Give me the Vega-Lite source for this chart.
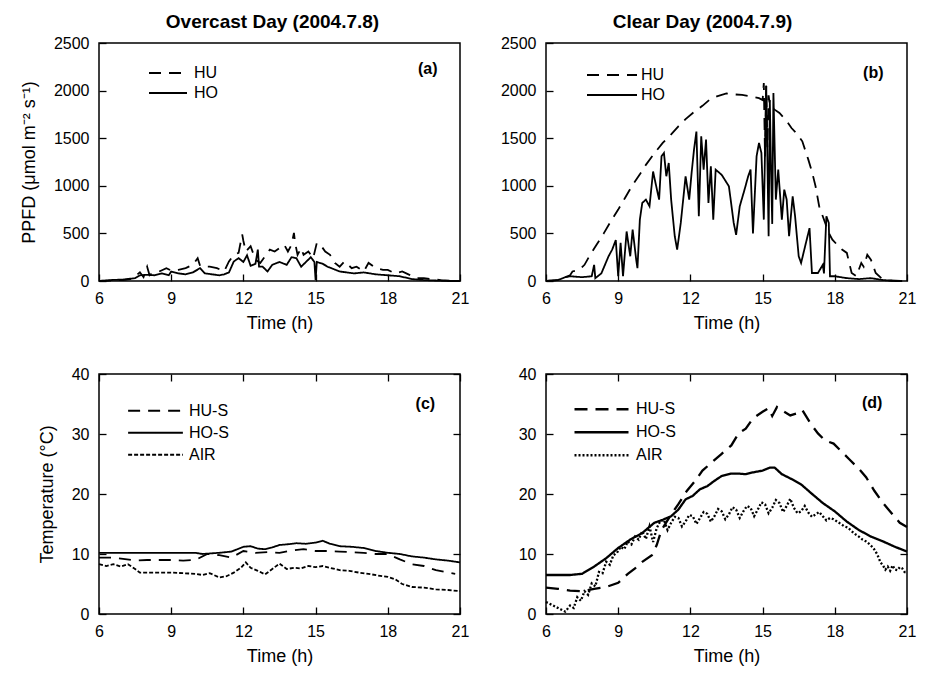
{
  "$schema": "https://vega.github.io/schema/vega-lite/v6.json",
  "background": "white",
  "padding": {"left": 19, "top": 12, "right": 5, "bottom": 5},
  "config": {
    "font": "Liberation Sans",
    "view": {"stroke": "black", "strokeWidth": 1.5},
    "axis": {"grid": false, "domain": false, "labelColor": "black", "titleColor": "black", "labelFont": "Liberation Sans", "titleFont": "Liberation Sans", "titleFontWeight": "normal", "labelFlush": false, "labelOverlap": false, "format": "d"},
    "axisX": {"labelFontSize": 16, "labelPadding": 9, "titleFontSize": 18, "titlePadding": 8},
    "axisY": {"labelFontSize": 16, "labelPadding": 10, "titleFontSize": 18, "titlePadding": 15},
    "legend": {"orient": "none", "symbolType": "stroke", "symbolStrokeColor": "black", "symbolStrokeWidth": 1.8, "labelFontSize": 16, "labelColor": "black", "labelFont": "Liberation Sans", "padding": 0, "rowPadding": 0, "title": null},
    "title": {"fontSize": 19, "fontWeight": "bold", "font": "Liberation Sans", "color": "black", "baseline": "bottom", "offset": 3}
  },
  "datasets": {
    "a": [
      {"t":6.0,"v":0,"s":"HU"},{"t":6.5,"v":5,"s":"HU"},{"t":7.0,"v":10,"s":"HU"},{"t":7.3,"v":20,"s":"HU"},{"t":7.5,"v":46,"s":"HU"},{"t":7.7,"v":92,"s":"HU"},{"t":7.85,"v":40,"s":"HU"},{"t":8.0,"v":150,"s":"HU"},{"t":8.1,"v":60,"s":"HU"},{"t":8.2,"v":80,"s":"HU"},{"t":8.5,"v":100,"s":"HU"},{"t":8.8,"v":135,"s":"HU"},{"t":9.0,"v":110,"s":"HU"},{"t":9.3,"v":117,"s":"HU"},{"t":9.6,"v":135,"s":"HU"},{"t":9.9,"v":170,"s":"HU"},{"t":10.1,"v":240,"s":"HU"},{"t":10.2,"v":160,"s":"HU"},{"t":10.3,"v":150,"s":"HU"},{"t":10.6,"v":150,"s":"HU"},{"t":10.9,"v":135,"s":"HU"},{"t":11.2,"v":100,"s":"HU"},{"t":11.4,"v":205,"s":"HU"},{"t":11.6,"v":275,"s":"HU"},{"t":11.8,"v":295,"s":"HU"},{"t":11.95,"v":490,"s":"HU"},{"t":12.0,"v":420,"s":"HU"},{"t":12.1,"v":310,"s":"HU"},{"t":12.3,"v":365,"s":"HU"},{"t":12.5,"v":225,"s":"HU"},{"t":12.7,"v":190,"s":"HU"},{"t":12.9,"v":260,"s":"HU"},{"t":13.1,"v":330,"s":"HU"},{"t":13.3,"v":310,"s":"HU"},{"t":13.5,"v":345,"s":"HU"},{"t":13.7,"v":380,"s":"HU"},{"t":13.85,"v":310,"s":"HU"},{"t":14.0,"v":380,"s":"HU"},{"t":14.1,"v":505,"s":"HU"},{"t":14.15,"v":400,"s":"HU"},{"t":14.25,"v":275,"s":"HU"},{"t":14.4,"v":345,"s":"HU"},{"t":14.5,"v":275,"s":"HU"},{"t":14.7,"v":310,"s":"HU"},{"t":14.9,"v":240,"s":"HU"},{"t":15.05,"v":400,"s":"HU"},{"t":15.2,"v":380,"s":"HU"},{"t":15.4,"v":310,"s":"HU"},{"t":15.6,"v":275,"s":"HU"},{"t":15.8,"v":190,"s":"HU"},{"t":16.0,"v":150,"s":"HU"},{"t":16.2,"v":205,"s":"HU"},{"t":16.5,"v":135,"s":"HU"},{"t":16.7,"v":150,"s":"HU"},{"t":17.0,"v":100,"s":"HU"},{"t":17.2,"v":190,"s":"HU"},{"t":17.5,"v":135,"s":"HU"},{"t":17.8,"v":117,"s":"HU"},{"t":18.0,"v":117,"s":"HU"},{"t":18.3,"v":80,"s":"HU"},{"t":18.6,"v":100,"s":"HU"},{"t":18.9,"v":65,"s":"HU"},{"t":19.2,"v":30,"s":"HU"},{"t":19.5,"v":30,"s":"HU"},{"t":19.8,"v":20,"s":"HU"},{"t":20.2,"v":10,"s":"HU"},{"t":20.8,"v":0,"s":"HU"},
      {"t":6.0,"v":0,"s":"HO"},{"t":6.5,"v":10,"s":"HO"},{"t":7.0,"v":15,"s":"HO"},{"t":7.5,"v":30,"s":"HO"},{"t":7.7,"v":60,"s":"HO"},{"t":8.0,"v":65,"s":"HO"},{"t":8.3,"v":60,"s":"HO"},{"t":8.6,"v":80,"s":"HO"},{"t":8.9,"v":60,"s":"HO"},{"t":9.0,"v":100,"s":"HO"},{"t":9.3,"v":80,"s":"HO"},{"t":9.6,"v":70,"s":"HO"},{"t":9.9,"v":90,"s":"HO"},{"t":10.2,"v":135,"s":"HO"},{"t":10.4,"v":80,"s":"HO"},{"t":10.7,"v":70,"s":"HO"},{"t":11.0,"v":60,"s":"HO"},{"t":11.2,"v":70,"s":"HO"},{"t":11.4,"v":90,"s":"HO"},{"t":11.6,"v":205,"s":"HO"},{"t":11.8,"v":240,"s":"HO"},{"t":12.0,"v":200,"s":"HO"},{"t":12.15,"v":270,"s":"HO"},{"t":12.3,"v":160,"s":"HO"},{"t":12.5,"v":180,"s":"HO"},{"t":12.6,"v":330,"s":"HO"},{"t":12.65,"v":150,"s":"HO"},{"t":12.8,"v":150,"s":"HO"},{"t":13.0,"v":100,"s":"HO"},{"t":13.2,"v":170,"s":"HO"},{"t":13.5,"v":200,"s":"HO"},{"t":13.8,"v":170,"s":"HO"},{"t":14.0,"v":250,"s":"HO"},{"t":14.2,"v":240,"s":"HO"},{"t":14.4,"v":150,"s":"HO"},{"t":14.6,"v":200,"s":"HO"},{"t":14.8,"v":250,"s":"HO"},{"t":14.95,"v":200,"s":"HO"},{"t":15.0,"v":10,"s":"HO"},{"t":15.05,"v":200,"s":"HO"},{"t":15.3,"v":180,"s":"HO"},{"t":15.5,"v":150,"s":"HO"},{"t":15.8,"v":120,"s":"HO"},{"t":16.0,"v":100,"s":"HO"},{"t":16.3,"v":90,"s":"HO"},{"t":16.6,"v":80,"s":"HO"},{"t":17.0,"v":90,"s":"HO"},{"t":17.5,"v":70,"s":"HO"},{"t":18.0,"v":60,"s":"HO"},{"t":18.5,"v":50,"s":"HO"},{"t":19.0,"v":20,"s":"HO"},{"t":19.5,"v":10,"s":"HO"},{"t":20.0,"v":5,"s":"HO"},{"t":20.5,"v":0,"s":"HO"},{"t":21.0,"v":0,"s":"HO"}
    ],
    "b": [
      {"t":6.0,"v":0,"s":"HU"},{"t":6.5,"v":10,"s":"HU"},{"t":7.0,"v":60,"s":"HU"},{"t":7.1,"v":100,"s":"HU"},{"t":7.4,"v":120,"s":"HU"},{"t":7.6,"v":170,"s":"HU"},{"t":7.8,"v":260,"s":"HU"},{"t":8.1,"v":380,"s":"HU"},{"t":8.4,"v":500,"s":"HU"},{"t":8.7,"v":630,"s":"HU"},{"t":9.0,"v":750,"s":"HU"},{"t":9.3,"v":880,"s":"HU"},{"t":9.6,"v":1010,"s":"HU"},{"t":9.9,"v":1120,"s":"HU"},{"t":10.15,"v":1220,"s":"HU"},{"t":10.5,"v":1340,"s":"HU"},{"t":10.85,"v":1450,"s":"HU"},{"t":11.2,"v":1540,"s":"HU"},{"t":11.5,"v":1625,"s":"HU"},{"t":11.8,"v":1700,"s":"HU"},{"t":12.1,"v":1765,"s":"HU"},{"t":12.5,"v":1840,"s":"HU"},{"t":12.8,"v":1905,"s":"HU"},{"t":13.1,"v":1940,"s":"HU"},{"t":13.5,"v":1970,"s":"HU"},{"t":13.8,"v":1960,"s":"HU"},{"t":14.15,"v":1955,"s":"HU"},{"t":14.5,"v":1940,"s":"HU"},{"t":14.85,"v":1920,"s":"HU"},{"t":15.0,"v":1900,"s":"HU"},{"t":15.05,"v":2080,"s":"HU"},{"t":15.1,"v":1300,"s":"HU"},{"t":15.15,"v":2050,"s":"HU"},{"t":15.2,"v":1400,"s":"HU"},{"t":15.25,"v":1950,"s":"HU"},{"t":15.3,"v":1850,"s":"HU"},{"t":15.5,"v":1800,"s":"HU"},{"t":15.7,"v":1765,"s":"HU"},{"t":16.0,"v":1680,"s":"HU"},{"t":16.2,"v":1607,"s":"HU"},{"t":16.45,"v":1540,"s":"HU"},{"t":16.65,"v":1467,"s":"HU"},{"t":16.9,"v":1275,"s":"HU"},{"t":17.05,"v":1150,"s":"HU"},{"t":17.2,"v":995,"s":"HU"},{"t":17.35,"v":785,"s":"HU"},{"t":17.5,"v":680,"s":"HU"},{"t":17.75,"v":505,"s":"HU"},{"t":17.9,"v":434,"s":"HU"},{"t":18.1,"v":380,"s":"HU"},{"t":18.3,"v":330,"s":"HU"},{"t":18.5,"v":295,"s":"HU"},{"t":18.7,"v":84,"s":"HU"},{"t":18.9,"v":50,"s":"HU"},{"t":19.1,"v":190,"s":"HU"},{"t":19.2,"v":150,"s":"HU"},{"t":19.35,"v":276,"s":"HU"},{"t":19.5,"v":224,"s":"HU"},{"t":19.7,"v":84,"s":"HU"},{"t":20.0,"v":14,"s":"HU"},{"t":20.3,"v":5,"s":"HU"},{"t":20.8,"v":0,"s":"HU"},
      {"t":6.0,"v":0,"s":"HO"},{"t":6.5,"v":10,"s":"HO"},{"t":6.8,"v":40,"s":"HO"},{"t":7.0,"v":50,"s":"HO"},{"t":7.5,"v":40,"s":"HO"},{"t":7.9,"v":50,"s":"HO"},{"t":8.0,"v":170,"s":"HO"},{"t":8.05,"v":30,"s":"HO"},{"t":8.3,"v":80,"s":"HO"},{"t":8.6,"v":260,"s":"HO"},{"t":8.75,"v":330,"s":"HO"},{"t":8.9,"v":430,"s":"HO"},{"t":9.0,"v":50,"s":"HO"},{"t":9.1,"v":400,"s":"HO"},{"t":9.2,"v":50,"s":"HO"},{"t":9.35,"v":520,"s":"HO"},{"t":9.5,"v":260,"s":"HO"},{"t":9.6,"v":540,"s":"HO"},{"t":9.75,"v":220,"s":"HO"},{"t":9.8,"v":135,"s":"HO"},{"t":9.9,"v":645,"s":"HO"},{"t":10.0,"v":820,"s":"HO"},{"t":10.15,"v":855,"s":"HO"},{"t":10.3,"v":785,"s":"HO"},{"t":10.45,"v":1150,"s":"HO"},{"t":10.55,"v":1030,"s":"HO"},{"t":10.7,"v":855,"s":"HO"},{"t":10.8,"v":1310,"s":"HO"},{"t":10.9,"v":1345,"s":"HO"},{"t":11.0,"v":1100,"s":"HO"},{"t":11.1,"v":1240,"s":"HO"},{"t":11.2,"v":855,"s":"HO"},{"t":11.35,"v":470,"s":"HO"},{"t":11.45,"v":330,"s":"HO"},{"t":11.6,"v":610,"s":"HO"},{"t":11.8,"v":1100,"s":"HO"},{"t":11.95,"v":855,"s":"HO"},{"t":12.05,"v":1135,"s":"HO"},{"t":12.15,"v":1380,"s":"HO"},{"t":12.25,"v":1570,"s":"HO"},{"t":12.35,"v":680,"s":"HO"},{"t":12.45,"v":1520,"s":"HO"},{"t":12.55,"v":1170,"s":"HO"},{"t":12.65,"v":1485,"s":"HO"},{"t":12.75,"v":820,"s":"HO"},{"t":12.85,"v":1205,"s":"HO"},{"t":12.95,"v":645,"s":"HO"},{"t":13.05,"v":1170,"s":"HO"},{"t":13.3,"v":1115,"s":"HO"},{"t":13.6,"v":995,"s":"HO"},{"t":13.8,"v":610,"s":"HO"},{"t":13.9,"v":485,"s":"HO"},{"t":14.05,"v":785,"s":"HO"},{"t":14.25,"v":960,"s":"HO"},{"t":14.4,"v":1100,"s":"HO"},{"t":14.5,"v":1170,"s":"HO"},{"t":14.6,"v":500,"s":"HO"},{"t":14.75,"v":1310,"s":"HO"},{"t":14.85,"v":1450,"s":"HO"},{"t":14.95,"v":1345,"s":"HO"},{"t":15.05,"v":645,"s":"HO"},{"t":15.15,"v":2050,"s":"HO"},{"t":15.25,"v":470,"s":"HO"},{"t":15.3,"v":1900,"s":"HO"},{"t":15.35,"v":1170,"s":"HO"},{"t":15.4,"v":600,"s":"HO"},{"t":15.45,"v":1975,"s":"HO"},{"t":15.55,"v":855,"s":"HO"},{"t":15.65,"v":1170,"s":"HO"},{"t":15.8,"v":645,"s":"HO"},{"t":15.9,"v":960,"s":"HO"},{"t":16.0,"v":855,"s":"HO"},{"t":16.1,"v":470,"s":"HO"},{"t":16.25,"v":890,"s":"HO"},{"t":16.35,"v":680,"s":"HO"},{"t":16.5,"v":260,"s":"HO"},{"t":16.6,"v":190,"s":"HO"},{"t":16.8,"v":400,"s":"HO"},{"t":16.95,"v":555,"s":"HO"},{"t":17.05,"v":84,"s":"HO"},{"t":17.3,"v":84,"s":"HO"},{"t":17.5,"v":170,"s":"HO"},{"t":17.55,"v":80,"s":"HO"},{"t":17.65,"v":680,"s":"HO"},{"t":17.75,"v":610,"s":"HO"},{"t":17.8,"v":50,"s":"HO"},{"t":18.0,"v":50,"s":"HO"},{"t":18.5,"v":30,"s":"HO"},{"t":19.0,"v":20,"s":"HO"},{"t":19.5,"v":30,"s":"HO"},{"t":20.0,"v":10,"s":"HO"},{"t":20.5,"v":0,"s":"HO"},{"t":20.8,"v":0,"s":"HO"}
    ],
    "c": [
      {"t":6.0,"v":9.4,"s":"HU-S"},{"t":6.5,"v":9.4,"s":"HU-S"},{"t":7.0,"v":9.2,"s":"HU-S"},{"t":7.5,"v":8.9,"s":"HU-S"},{"t":8.0,"v":9.0,"s":"HU-S"},{"t":8.5,"v":9.0,"s":"HU-S"},{"t":9.0,"v":9.0,"s":"HU-S"},{"t":9.5,"v":8.9,"s":"HU-S"},{"t":10.0,"v":9.0,"s":"HU-S"},{"t":10.5,"v":10.0,"s":"HU-S"},{"t":11.0,"v":9.8,"s":"HU-S"},{"t":11.5,"v":9.4,"s":"HU-S"},{"t":12.0,"v":10.5,"s":"HU-S"},{"t":12.5,"v":10.2,"s":"HU-S"},{"t":13.0,"v":10.3,"s":"HU-S"},{"t":13.5,"v":10.2,"s":"HU-S"},{"t":14.0,"v":10.6,"s":"HU-S"},{"t":14.5,"v":10.8,"s":"HU-S"},{"t":15.0,"v":10.5,"s":"HU-S"},{"t":15.5,"v":10.5,"s":"HU-S"},{"t":16.0,"v":10.4,"s":"HU-S"},{"t":16.5,"v":10.3,"s":"HU-S"},{"t":17.0,"v":10.2,"s":"HU-S"},{"t":17.5,"v":10.0,"s":"HU-S"},{"t":18.0,"v":10.0,"s":"HU-S"},{"t":18.5,"v":9.1,"s":"HU-S"},{"t":19.0,"v":8.3,"s":"HU-S"},{"t":19.5,"v":8.0,"s":"HU-S"},{"t":20.0,"v":7.3,"s":"HU-S"},{"t":20.5,"v":6.9,"s":"HU-S"},{"t":20.8,"v":6.7,"s":"HU-S"},
      {"t":6.0,"v":10.2,"s":"HO-S"},{"t":8.0,"v":10.2,"s":"HO-S"},{"t":10.0,"v":10.2,"s":"HO-S"},{"t":10.3,"v":10.0,"s":"HO-S"},{"t":11.0,"v":10.2,"s":"HO-S"},{"t":11.5,"v":10.4,"s":"HO-S"},{"t":12.0,"v":11.2,"s":"HO-S"},{"t":12.3,"v":11.3,"s":"HO-S"},{"t":12.6,"v":10.9,"s":"HO-S"},{"t":12.9,"v":10.8,"s":"HO-S"},{"t":13.2,"v":11.1,"s":"HO-S"},{"t":13.5,"v":11.5,"s":"HO-S"},{"t":13.8,"v":11.6,"s":"HO-S"},{"t":14.2,"v":11.8,"s":"HO-S"},{"t":14.6,"v":11.7,"s":"HO-S"},{"t":15.0,"v":11.9,"s":"HO-S"},{"t":15.3,"v":12.2,"s":"HO-S"},{"t":15.6,"v":11.7,"s":"HO-S"},{"t":16.0,"v":11.3,"s":"HO-S"},{"t":16.5,"v":11.2,"s":"HO-S"},{"t":17.0,"v":11.0,"s":"HO-S"},{"t":17.5,"v":10.5,"s":"HO-S"},{"t":18.0,"v":10.2,"s":"HO-S"},{"t":18.5,"v":10.0,"s":"HO-S"},{"t":19.0,"v":9.6,"s":"HO-S"},{"t":19.5,"v":9.4,"s":"HO-S"},{"t":20.0,"v":9.1,"s":"HO-S"},{"t":20.5,"v":8.9,"s":"HO-S"},{"t":21.0,"v":8.6,"s":"HO-S"},
      {"t":6.0,"v":8.3,"s":"AIR"},{"t":6.3,"v":8.0,"s":"AIR"},{"t":6.6,"v":8.3,"s":"AIR"},{"t":6.9,"v":7.9,"s":"AIR"},{"t":7.2,"v":8.3,"s":"AIR"},{"t":7.5,"v":7.5,"s":"AIR"},{"t":7.7,"v":6.9,"s":"AIR"},{"t":8.0,"v":6.9,"s":"AIR"},{"t":8.5,"v":6.9,"s":"AIR"},{"t":9.0,"v":6.9,"s":"AIR"},{"t":9.5,"v":6.8,"s":"AIR"},{"t":10.0,"v":6.7,"s":"AIR"},{"t":10.3,"v":6.5,"s":"AIR"},{"t":10.6,"v":6.8,"s":"AIR"},{"t":11.0,"v":6.1,"s":"AIR"},{"t":11.3,"v":6.3,"s":"AIR"},{"t":11.6,"v":6.9,"s":"AIR"},{"t":11.9,"v":7.7,"s":"AIR"},{"t":12.1,"v":8.6,"s":"AIR"},{"t":12.3,"v":7.7,"s":"AIR"},{"t":12.6,"v":7.2,"s":"AIR"},{"t":12.9,"v":6.6,"s":"AIR"},{"t":13.2,"v":7.5,"s":"AIR"},{"t":13.5,"v":8.4,"s":"AIR"},{"t":13.8,"v":7.5,"s":"AIR"},{"t":14.1,"v":7.7,"s":"AIR"},{"t":14.4,"v":7.6,"s":"AIR"},{"t":14.7,"v":8.0,"s":"AIR"},{"t":15.0,"v":7.8,"s":"AIR"},{"t":15.3,"v":8.0,"s":"AIR"},{"t":15.6,"v":7.7,"s":"AIR"},{"t":16.0,"v":7.3,"s":"AIR"},{"t":16.4,"v":7.2,"s":"AIR"},{"t":16.8,"v":6.9,"s":"AIR"},{"t":17.2,"v":6.7,"s":"AIR"},{"t":17.6,"v":6.4,"s":"AIR"},{"t":18.0,"v":6.2,"s":"AIR"},{"t":18.3,"v":5.8,"s":"AIR"},{"t":18.6,"v":5.0,"s":"AIR"},{"t":19.0,"v":4.5,"s":"AIR"},{"t":19.5,"v":4.4,"s":"AIR"},{"t":20.0,"v":4.1,"s":"AIR"},{"t":20.5,"v":4.0,"s":"AIR"},{"t":21.0,"v":3.8,"s":"AIR"}
    ],
    "d": [
      {"t":6.0,"v":4.4,"s":"HU-S"},{"t":6.5,"v":4.2,"s":"HU-S"},{"t":7.0,"v":3.9,"s":"HU-S"},{"t":7.5,"v":3.8,"s":"HU-S"},{"t":8.0,"v":4.2,"s":"HU-S"},{"t":8.5,"v":4.5,"s":"HU-S"},{"t":9.0,"v":5.2,"s":"HU-S"},{"t":9.4,"v":6.7,"s":"HU-S"},{"t":9.7,"v":7.6,"s":"HU-S"},{"t":10.0,"v":8.7,"s":"HU-S"},{"t":10.4,"v":9.8,"s":"HU-S"},{"t":10.6,"v":11.5,"s":"HU-S"},{"t":10.8,"v":14.0,"s":"HU-S"},{"t":11.2,"v":16.6,"s":"HU-S"},{"t":11.5,"v":18.3,"s":"HU-S"},{"t":11.85,"v":20.5,"s":"HU-S"},{"t":12.2,"v":22.2,"s":"HU-S"},{"t":12.5,"v":23.9,"s":"HU-S"},{"t":12.9,"v":25.3,"s":"HU-S"},{"t":13.3,"v":26.7,"s":"HU-S"},{"t":13.7,"v":28.1,"s":"HU-S"},{"t":14.0,"v":30.1,"s":"HU-S"},{"t":14.3,"v":30.9,"s":"HU-S"},{"t":14.6,"v":32.6,"s":"HU-S"},{"t":15.0,"v":33.7,"s":"HU-S"},{"t":15.25,"v":34.3,"s":"HU-S"},{"t":15.4,"v":33.0,"s":"HU-S"},{"t":15.6,"v":34.5,"s":"HU-S"},{"t":15.9,"v":33.7,"s":"HU-S"},{"t":16.15,"v":33.1,"s":"HU-S"},{"t":16.4,"v":33.4,"s":"HU-S"},{"t":16.65,"v":34.0,"s":"HU-S"},{"t":17.0,"v":31.7,"s":"HU-S"},{"t":17.3,"v":30.1,"s":"HU-S"},{"t":17.6,"v":28.9,"s":"HU-S"},{"t":17.95,"v":28.4,"s":"HU-S"},{"t":18.3,"v":27.0,"s":"HU-S"},{"t":18.6,"v":25.8,"s":"HU-S"},{"t":19.0,"v":24.2,"s":"HU-S"},{"t":19.3,"v":22.8,"s":"HU-S"},{"t":19.65,"v":20.5,"s":"HU-S"},{"t":20.0,"v":18.5,"s":"HU-S"},{"t":20.4,"v":16.6,"s":"HU-S"},{"t":20.7,"v":15.2,"s":"HU-S"},{"t":21.0,"v":14.5,"s":"HU-S"},
      {"t":6.0,"v":6.5,"s":"HO-S"},{"t":7.0,"v":6.5,"s":"HO-S"},{"t":7.5,"v":6.7,"s":"HO-S"},{"t":8.0,"v":7.9,"s":"HO-S"},{"t":8.5,"v":9.3,"s":"HO-S"},{"t":9.0,"v":11.0,"s":"HO-S"},{"t":9.5,"v":12.4,"s":"HO-S"},{"t":10.0,"v":13.5,"s":"HO-S"},{"t":10.5,"v":15.2,"s":"HO-S"},{"t":10.85,"v":15.7,"s":"HO-S"},{"t":11.2,"v":16.3,"s":"HO-S"},{"t":11.5,"v":17.4,"s":"HO-S"},{"t":11.8,"v":19.1,"s":"HO-S"},{"t":12.1,"v":19.7,"s":"HO-S"},{"t":12.4,"v":20.8,"s":"HO-S"},{"t":12.7,"v":21.3,"s":"HO-S"},{"t":13.0,"v":22.2,"s":"HO-S"},{"t":13.3,"v":23.0,"s":"HO-S"},{"t":13.7,"v":23.4,"s":"HO-S"},{"t":14.0,"v":23.4,"s":"HO-S"},{"t":14.3,"v":23.3,"s":"HO-S"},{"t":14.6,"v":23.6,"s":"HO-S"},{"t":15.0,"v":23.9,"s":"HO-S"},{"t":15.3,"v":24.4,"s":"HO-S"},{"t":15.5,"v":24.4,"s":"HO-S"},{"t":15.8,"v":23.3,"s":"HO-S"},{"t":16.2,"v":22.5,"s":"HO-S"},{"t":16.6,"v":21.6,"s":"HO-S"},{"t":17.0,"v":20.2,"s":"HO-S"},{"t":17.5,"v":18.5,"s":"HO-S"},{"t":18.0,"v":17.1,"s":"HO-S"},{"t":18.5,"v":15.4,"s":"HO-S"},{"t":19.0,"v":14.0,"s":"HO-S"},{"t":19.5,"v":12.9,"s":"HO-S"},{"t":20.0,"v":12.1,"s":"HO-S"},{"t":20.5,"v":11.2,"s":"HO-S"},{"t":21.0,"v":10.4,"s":"HO-S"},
      {"t":6.0,"v":2.0,"s":"AIR"},{"t":6.2,"v":1.6,"s":"AIR"},{"t":6.4,"v":1.2,"s":"AIR"},{"t":6.6,"v":0.8,"s":"AIR"},{"t":6.8,"v":0.4,"s":"AIR"},{"t":6.9,"v":0.9,"s":"AIR"},{"t":7.0,"v":1.4,"s":"AIR"},{"t":7.15,"v":1.0,"s":"AIR"},{"t":7.3,"v":2.8,"s":"AIR"},{"t":7.45,"v":2.2,"s":"AIR"},{"t":7.6,"v":3.8,"s":"AIR"},{"t":7.75,"v":3.2,"s":"AIR"},{"t":7.9,"v":5.1,"s":"AIR"},{"t":8.05,"v":4.6,"s":"AIR"},{"t":8.2,"v":7.0,"s":"AIR"},{"t":8.35,"v":6.8,"s":"AIR"},{"t":8.5,"v":8.7,"s":"AIR"},{"t":8.65,"v":8.2,"s":"AIR"},{"t":8.8,"v":9.8,"s":"AIR"},{"t":8.95,"v":10.2,"s":"AIR"},{"t":9.1,"v":11.2,"s":"AIR"},{"t":9.25,"v":10.8,"s":"AIR"},{"t":9.4,"v":12.1,"s":"AIR"},{"t":9.55,"v":11.6,"s":"AIR"},{"t":9.7,"v":12.9,"s":"AIR"},{"t":9.85,"v":12.4,"s":"AIR"},{"t":10.0,"v":13.8,"s":"AIR"},{"t":10.15,"v":12.5,"s":"AIR"},{"t":10.3,"v":14.6,"s":"AIR"},{"t":10.45,"v":12.0,"s":"AIR"},{"t":10.6,"v":14.3,"s":"AIR"},{"t":10.75,"v":15.5,"s":"AIR"},{"t":10.9,"v":15.7,"s":"AIR"},{"t":11.05,"v":14.0,"s":"AIR"},{"t":11.2,"v":15.2,"s":"AIR"},{"t":11.35,"v":16.2,"s":"AIR"},{"t":11.5,"v":16.0,"s":"AIR"},{"t":11.65,"v":14.6,"s":"AIR"},{"t":11.8,"v":15.4,"s":"AIR"},{"t":11.95,"v":16.5,"s":"AIR"},{"t":12.1,"v":16.3,"s":"AIR"},{"t":12.25,"v":15.0,"s":"AIR"},{"t":12.4,"v":16.0,"s":"AIR"},{"t":12.55,"v":17.0,"s":"AIR"},{"t":12.7,"v":16.7,"s":"AIR"},{"t":12.85,"v":15.4,"s":"AIR"},{"t":13.0,"v":16.3,"s":"AIR"},{"t":13.15,"v":17.5,"s":"AIR"},{"t":13.3,"v":17.1,"s":"AIR"},{"t":13.45,"v":15.8,"s":"AIR"},{"t":13.6,"v":16.6,"s":"AIR"},{"t":13.75,"v":17.8,"s":"AIR"},{"t":13.9,"v":17.4,"s":"AIR"},{"t":14.05,"v":16.0,"s":"AIR"},{"t":14.2,"v":17.1,"s":"AIR"},{"t":14.35,"v":18.0,"s":"AIR"},{"t":14.5,"v":17.7,"s":"AIR"},{"t":14.65,"v":16.3,"s":"AIR"},{"t":14.8,"v":17.4,"s":"AIR"},{"t":14.95,"v":18.6,"s":"AIR"},{"t":15.1,"v":18.3,"s":"AIR"},{"t":15.25,"v":16.8,"s":"AIR"},{"t":15.4,"v":17.7,"s":"AIR"},{"t":15.55,"v":19.0,"s":"AIR"},{"t":15.7,"v":18.5,"s":"AIR"},{"t":15.85,"v":17.0,"s":"AIR"},{"t":16.0,"v":18.0,"s":"AIR"},{"t":16.15,"v":19.2,"s":"AIR"},{"t":16.3,"v":17.7,"s":"AIR"},{"t":16.45,"v":16.8,"s":"AIR"},{"t":16.6,"v":17.1,"s":"AIR"},{"t":16.75,"v":18.0,"s":"AIR"},{"t":16.9,"v":16.9,"s":"AIR"},{"t":17.05,"v":16.2,"s":"AIR"},{"t":17.2,"v":16.6,"s":"AIR"},{"t":17.35,"v":17.0,"s":"AIR"},{"t":17.5,"v":16.3,"s":"AIR"},{"t":17.65,"v":15.6,"s":"AIR"},{"t":17.8,"v":16.0,"s":"AIR"},{"t":17.95,"v":15.8,"s":"AIR"},{"t":18.1,"v":15.4,"s":"AIR"},{"t":18.25,"v":15.0,"s":"AIR"},{"t":18.4,"v":14.6,"s":"AIR"},{"t":18.55,"v":14.4,"s":"AIR"},{"t":18.7,"v":13.8,"s":"AIR"},{"t":18.85,"v":13.3,"s":"AIR"},{"t":19.0,"v":12.9,"s":"AIR"},{"t":19.15,"v":12.4,"s":"AIR"},{"t":19.3,"v":12.1,"s":"AIR"},{"t":19.45,"v":11.6,"s":"AIR"},{"t":19.6,"v":11.0,"s":"AIR"},{"t":19.7,"v":10.4,"s":"AIR"},{"t":19.8,"v":9.6,"s":"AIR"},{"t":19.9,"v":8.6,"s":"AIR"},{"t":20.0,"v":8.1,"s":"AIR"},{"t":20.1,"v":7.4,"s":"AIR"},{"t":20.2,"v":7.9,"s":"AIR"},{"t":20.3,"v":7.2,"s":"AIR"},{"t":20.4,"v":8.1,"s":"AIR"},{"t":20.5,"v":7.4,"s":"AIR"},{"t":20.6,"v":7.3,"s":"AIR"},{"t":20.7,"v":7.8,"s":"AIR"},{"t":20.8,"v":7.6,"s":"AIR"},{"t":20.9,"v":7.0,"s":"AIR"},{"t":21.0,"v":7.0,"s":"AIR"}
    ]
  },
  "columns": 2,
  "spacing": {"row": 93, "column": 86},
  "bounds": "flush",
  "resolve": {"scale": {"strokeDash": "independent"}, "legend": {"strokeDash": "independent"}},
  "concat": [
    {
      "width": 361, "height": 238,
      "title": {"text": "Overcast Day (2004.7.8)", "dx": -7},
      "layer": [
        {
          "data": {"name": "a"},
          "mark": {"type": "line", "color": "black", "strokeWidth": 1.8},
          "encoding": {
            "x": {"field": "t", "type": "quantitative", "scale": {"domain": [6, 21], "nice": false}, "axis": {"values": [6, 9, 12, 15, 18, 21], "title": "Time (h)", "ticks": true, "offset": -7, "tickSize": 7, "tickColor": "black", "tickWidth": 1.3, "zindex": 2}},
            "y": {"field": "v", "type": "quantitative", "scale": {"domain": [0, 2500], "nice": false}, "axis": {"values": [0, 500, 1000, 1500, 2000, 2500], "title": "PPFD (μmol m⁻² s⁻¹)", "ticks": true, "offset": -7, "tickSize": 7, "tickColor": "black", "tickWidth": 1.3, "zindex": 2}},
            "strokeDash": {"field": "s", "type": "nominal", "scale": {"domain": ["HU", "HO"], "range": [[12, 8], [1, 0]]}, "legend": {"legendX": 49, "legendY": 20, "symbolSize": 1444, "clipHeight": 20, "labelOffset": 6}}
          }
        },
        {
          "data": {"values": [{"t": 19.66, "v": 2227, "label": "(a)"}]},
          "mark": {"type": "text", "fontWeight": "bold", "fontSize": 16, "font": "Liberation Sans", "color": "black"},
          "encoding": {
            "x": {"field": "t", "type": "quantitative"},
            "y": {"field": "v", "type": "quantitative"},
            "text": {"field": "label"}
          }
        }
      ]
    },
    {
      "width": 361, "height": 238,
      "title": {"text": "Clear Day (2004.7.9)", "dx": -24},
      "layer": [
        {
          "data": {"name": "b"},
          "mark": {"type": "line", "color": "black", "strokeWidth": 1.8},
          "encoding": {
            "x": {"field": "t", "type": "quantitative", "scale": {"domain": [6, 21], "nice": false}, "axis": {"values": [6, 9, 12, 15, 18, 21], "title": "Time (h)", "ticks": true, "offset": -7, "tickSize": 7, "tickColor": "black", "tickWidth": 1.3, "zindex": 2}},
            "y": {"field": "v", "type": "quantitative", "scale": {"domain": [0, 2500], "nice": false}, "axis": {"values": [0, 500, 1000, 1500, 2000, 2500], "title": null, "ticks": true, "offset": -7, "tickSize": 7, "tickColor": "black", "tickWidth": 1.3, "zindex": 2}},
            "strokeDash": {"field": "s", "type": "nominal", "scale": {"domain": ["HU", "HO"], "range": [[12, 8], [1, 0]]}, "legend": {"legendX": 40, "legendY": 22, "symbolSize": 2500, "clipHeight": 20, "labelOffset": 3}}
          }
        },
        {
          "data": {"values": [{"t": 19.6, "v": 2185, "label": "(b)"}]},
          "mark": {"type": "text", "fontWeight": "bold", "fontSize": 16, "font": "Liberation Sans", "color": "black"},
          "encoding": {
            "x": {"field": "t", "type": "quantitative"},
            "y": {"field": "v", "type": "quantitative"},
            "text": {"field": "label"}
          }
        }
      ]
    },
    {
      "width": 361, "height": 240,
      "layer": [
        {
          "data": {"name": "c"},
          "mark": {"type": "line", "color": "black", "strokeWidth": 1.8},
          "encoding": {
            "x": {"field": "t", "type": "quantitative", "scale": {"domain": [6, 21], "nice": false}, "axis": {"values": [6, 9, 12, 15, 18, 21], "title": "Time (h)", "ticks": true, "offset": -7, "tickSize": 7, "tickColor": "black", "tickWidth": 1.3, "zindex": 2}},
            "y": {"field": "v", "type": "quantitative", "scale": {"domain": [0, 40], "nice": false}, "axis": {"values": [0, 10, 20, 30, 40], "title": "Temperature (°C)", "ticks": true, "offset": -7, "tickSize": 7, "tickColor": "black", "tickWidth": 1.3, "zindex": 2}},
            "strokeDash": {"field": "s", "type": "nominal", "scale": {"domain": ["HU-S", "HO-S", "AIR"], "range": [[12, 8], [1, 0], [4, 2]]}, "legend": {"legendX": 28, "legendY": 26, "symbolSize": 3000, "clipHeight": 21.5, "labelOffset": 5}}
          }
        },
        {
          "data": {"values": [{"t": 19.56, "v": 35, "label": "(c)"}]},
          "mark": {"type": "text", "fontWeight": "bold", "fontSize": 16, "font": "Liberation Sans", "color": "black"},
          "encoding": {
            "x": {"field": "t", "type": "quantitative", "axis": {"orient": "top", "labels": false, "title": null, "values": [6, 9, 12, 15, 18, 21], "ticks": true, "offset": -7, "tickSize": 7, "tickColor": "black", "tickWidth": 1.3, "zindex": 2}},
            "y": {"field": "v", "type": "quantitative", "axis": {"orient": "right", "labels": false, "title": null, "values": [0, 10, 20, 30, 40], "ticks": true, "offset": -7, "tickSize": 7, "tickColor": "black", "tickWidth": 1.3, "zindex": 2}},
            "text": {"field": "label"}
          }
        }
      ],
      "resolve": {"axis": {"x": "independent", "y": "independent"}}
    },
    {
      "width": 361, "height": 240,
      "layer": [
        {
          "data": {"name": "d"},
          "mark": {"type": "line", "color": "black", "strokeWidth": 2.3},
          "encoding": {
            "x": {"field": "t", "type": "quantitative", "scale": {"domain": [6, 21], "nice": false}, "axis": {"values": [6, 9, 12, 15, 18, 21], "title": "Time (h)", "ticks": true, "offset": -7, "tickSize": 7, "tickColor": "black", "tickWidth": 1.3, "zindex": 2}},
            "y": {"field": "v", "type": "quantitative", "scale": {"domain": [0, 40], "nice": false}, "axis": {"values": [0, 10, 20, 30, 40], "title": null, "ticks": true, "offset": -7, "tickSize": 7, "tickColor": "black", "tickWidth": 1.3, "zindex": 2}},
            "strokeDash": {"field": "s", "type": "nominal", "scale": {"domain": ["HU-S", "HO-S", "AIR"], "range": [[13, 8], [1, 0], [2, 2]]}, "legend": {"legendX": 27, "legendY": 24, "symbolSize": 2916, "symbolStrokeWidth": 2.6, "clipHeight": 22.5, "labelOffset": 6}}
          }
        },
        {
          "data": {"values": [{"t": 19.55, "v": 35.2, "label": "(d)"}]},
          "mark": {"type": "text", "fontWeight": "bold", "fontSize": 16, "font": "Liberation Sans", "color": "black"},
          "encoding": {
            "x": {"field": "t", "type": "quantitative", "axis": {"orient": "top", "labels": false, "title": null, "values": [6, 9, 12, 15, 18, 21], "ticks": true, "offset": -7, "tickSize": 7, "tickColor": "black", "tickWidth": 1.3, "zindex": 2}},
            "y": {"field": "v", "type": "quantitative", "axis": {"orient": "right", "labels": false, "title": null, "values": [0, 10, 20, 30, 40], "ticks": true, "offset": -7, "tickSize": 7, "tickColor": "black", "tickWidth": 1.3, "zindex": 2}},
            "text": {"field": "label"}
          }
        }
      ],
      "resolve": {"axis": {"x": "independent", "y": "independent"}}
    }
  ]
}
